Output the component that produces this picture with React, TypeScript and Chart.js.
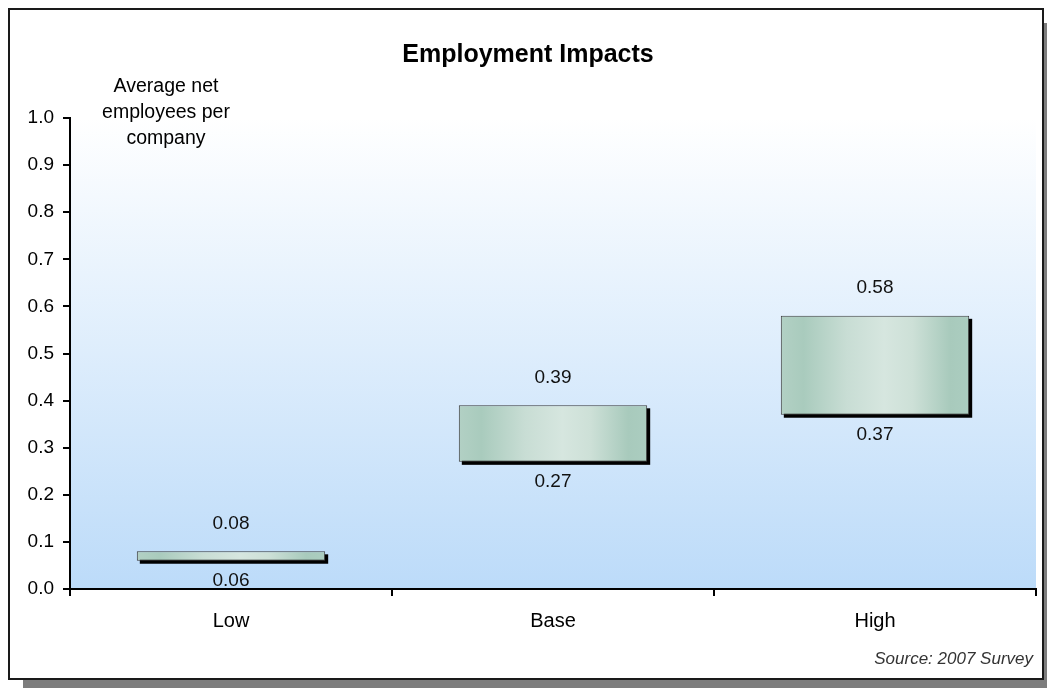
import React, { useEffect, useRef } from "react";
import { Chart, registerables } from "chart.js";

Chart.register(...registerables);

// Scenario categories and the floating range (low end / high end) for each
const categories = ["Low", "Base", "High"];
const rangeLow = [0.06, 0.27, 0.37];
const rangeHigh = [0.08, 0.39, 0.58];

const yMin = 0;
const yMax = 1.0;
const yStep = 0.1;

const chartTitle = "Employment Impacts";
const axisTitleLines = ["Average net", "employees per", "company"];
const sourceNote = "Source: 2007 Survey";

const FONT = "'Liberation Sans', Arial, Helvetica, sans-serif";
const BAR_PCT = 0.585;

// Horizontal sheen on each box: darker edges, lighter middle
function barGradient(context: any) {
  const chart = context.chart;
  const xs = chart.scales && chart.scales.x;
  if (!xs || !chart.chartArea) return "#b9d5ca";
  const cx = xs.getPixelForValue(context.dataIndex);
  const w = (xs.width / categories.length) * BAR_PCT;
  const g = chart.ctx.createLinearGradient(cx - w / 2, 0, cx + w / 2, 0);
  g.addColorStop(0, "#b2d0c4");
  g.addColorStop(0.12, "#a9cbbd");
  g.addColorStop(0.35, "#c8ddd4");
  g.addColorStop(0.55, "#d6e6df");
  g.addColorStop(0.7, "#cde0d7");
  g.addColorStop(0.9, "#a8cabc");
  g.addColorStop(1, "#abcdc0");
  return g;
}

const decorPlugin = {
  id: "decor",
  beforeDraw(chart: any) {
    const { ctx, chartArea } = chart;
    if (!chartArea) return;
    const g = ctx.createLinearGradient(0, chartArea.top, 0, chartArea.bottom);
    g.addColorStop(0, "#ffffff");
    g.addColorStop(1, "#bcdbf9");
    ctx.save();
    ctx.fillStyle = g;
    ctx.fillRect(chartArea.left, chartArea.top, chartArea.right - chartArea.left, chartArea.bottom - chartArea.top);
    ctx.restore();
  },
  beforeDatasetsDraw(chart: any) {
    const { ctx } = chart;
    const meta = chart.getDatasetMeta(0);
    ctx.save();
    ctx.fillStyle = "#000000";
    meta.data.forEach((el: any) => {
      const p = el.getProps(["x", "y", "base", "width"], true);
      const top = Math.min(p.y, p.base);
      const h = Math.abs(p.base - p.y);
      ctx.fillRect(p.x - p.width / 2 + 3, top + 3, p.width, h);
    });
    ctx.restore();
  },
  afterDatasetsDraw(chart: any) {
    const { ctx } = chart;
    const meta = chart.getDatasetMeta(0);
    ctx.save();
    ctx.fillStyle = "#111111";
    ctx.textAlign = "center";
    ctx.textBaseline = "middle";
    ctx.font = `19px ${FONT}`;
    meta.data.forEach((el: any, i: number) => {
      const p = el.getProps(["x", "y", "base"], true);
      const top = Math.min(p.y, p.base);
      const bottom = Math.max(p.y, p.base);
      ctx.fillText(rangeHigh[i].toFixed(2), p.x, top - 28);
      ctx.fillText(rangeLow[i].toFixed(2), p.x, bottom + 20);
    });

    // Chart title
    ctx.fillStyle = "#000000";
    ctx.font = `bold 25px ${FONT}`;
    ctx.fillText(chartTitle, 528, 55);

    // Value axis caption
    ctx.font = `19.5px ${FONT}`;
    axisTitleLines.forEach((line, i) => {
      ctx.fillText(line, 166, 87 + i * 26);
    });

    // Source note
    ctx.font = `italic 17px ${FONT}`;
    ctx.fillStyle = "#333333";
    ctx.textAlign = "right";
    ctx.fillText(sourceNote, 1033, 659);
    ctx.restore();
  },
};

export default function App() {
  const canvasRef = useRef<HTMLCanvasElement | null>(null);

  useEffect(() => {
    const canvas = canvasRef.current;
    if (!canvas) return;
    const chart = new Chart(canvas, {
      type: "bar",
      data: {
        labels: categories,
        datasets: [
          {
            label: "Average net employees per company",
            data: categories.map((_, i) => [rangeLow[i], rangeHigh[i]]) as any,
            backgroundColor: barGradient as any,
            borderColor: "#3c3c3c",
            borderWidth: 1,
            borderSkipped: false,
            barPercentage: BAR_PCT,
            categoryPercentage: 1,
          },
        ],
      },
      options: {
        animation: false,
        responsive: false,
        devicePixelRatio: 1,
        layout: { padding: { top: 118, right: 11, bottom: 49, left: 0 } },
        plugins: {
          legend: { display: false },
          title: { display: false },
          tooltip: { enabled: false },
        },
        scales: {
          x: {
            offset: true,
            grid: {
              offset: true,
              drawOnChartArea: false,
              drawTicks: true,
              tickLength: 7,
              color: "#000000",
              lineWidth: 2,
            },
            border: { display: true, color: "#000000", width: 2 },
            ticks: {
              color: "#000000",
              font: { family: FONT, size: 20 },
              padding: 13,
            },
            afterFit(scale: any) {
              scale.height = 50;
            },
          },
          y: {
            min: yMin,
            max: yMax,
            grid: {
              drawOnChartArea: false,
              drawTicks: true,
              tickLength: 7,
              color: "#000000",
              lineWidth: 2,
            },
            border: { display: true, color: "#000000", width: 2 },
            ticks: {
              stepSize: yStep,
              color: "#000000",
              font: { family: FONT, size: 19 },
              padding: 9,
              callback: (v: any) => Number(v).toFixed(1),
            },
            afterFit(scale: any) {
              scale.width = 70;
            },
          },
        },
      },
      plugins: [decorPlugin],
    });
    return () => chart.destroy();
  }, []);

  return (
    <div style={{ position: "fixed", left: 0, top: 0, width: 1047, height: 688, overflow: "hidden", background: "#ffffff" }}>
      <div
        style={{
          position: "absolute",
          left: 8,
          top: 8,
          width: 1036,
          height: 672,
          boxSizing: "border-box",
          border: "2px solid #1a1a1a",
          background: "#ffffff",
          boxShadow: "15px 15px 0 #7d7d7d",
        }}
      />
      <canvas
        ref={canvasRef}
        width={1047}
        height={688}
        style={{ position: "absolute", left: 0, top: 0, width: 1047, height: 688 }}
      />
    </div>
  );
}
